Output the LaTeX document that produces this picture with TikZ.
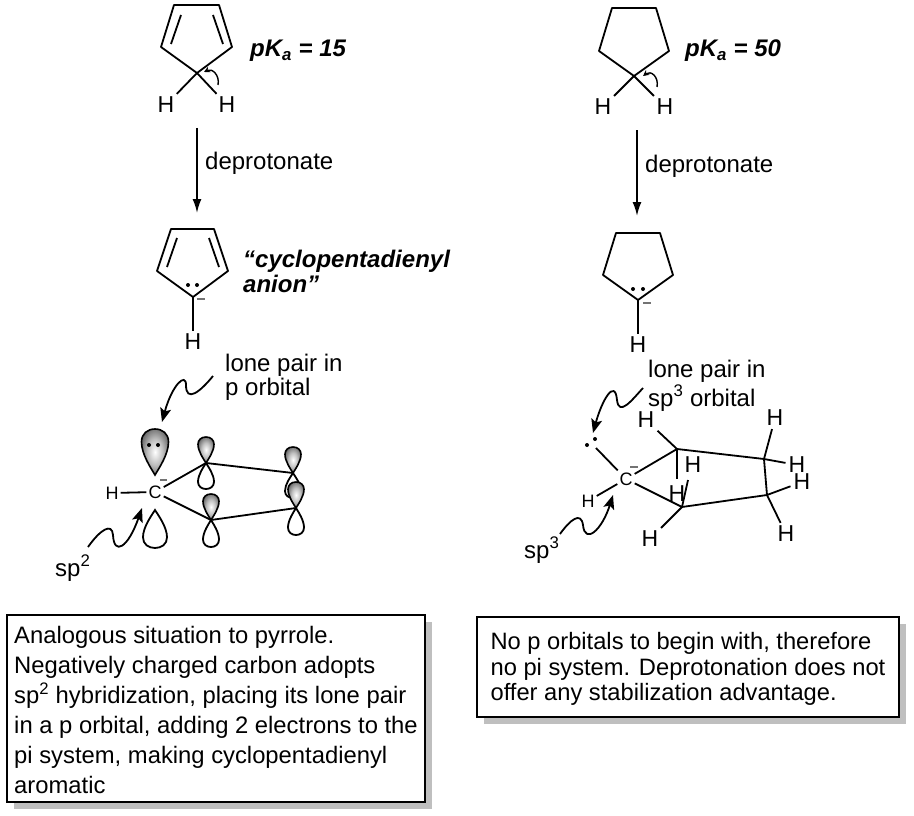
\documentclass[tikz,border=0pt]{standalone}
\usepackage{fontspec}
\setmainfont{Liberation Sans}
\usetikzlibrary {arrows.meta, positioning, shadows}
\pgfdeclareradialshading{lobeglow}{\pgfpoint{0bp}{0bp}}{%
    color(0bp)=(white); color(14bp)=(black!25); color(24bp)=(black!50); color(34bp)=(black!75); color(50bp)=(black!90)}
\tikzset{
    >={Latex[length=14pt, width=9pt]},
    bond/.style={line width=1.8pt},
    squiggle/.style={line width=1.8pt, -{Stealth[length=14pt, width=11pt, inset=3pt]}},
    hook/.style={line width=1.4pt, -{Stealth[length=6pt, width=6pt]}},
    minusbar/.style={line width=1.2pt, black!55},
    atomH/.style={font=\fontsize{23}{23}\selectfont, inner sep=3pt},
    atomsmall/.style={font=\fontsize{18}{18}\selectfont, inner sep=2pt},
    caption/.style={font=\fontsize{24}{24}\selectfont, anchor=base west, inner sep=0pt},
    boldcaption/.style={caption, font=\fontsize{24}{24}\selectfont\bfseries\itshape},
    notebox/.style={draw, line width=1.8pt, fill=white, outer sep=0pt, align=left,
        inner xsep=0pt, inner ysep=0pt,
        drop shadow={shadow xshift=7pt, shadow yshift=-7pt, fill=black!25, opacity=1}},
    lobe/.pic={
        \path[pic actions] (0,0) .. controls (-.3,.15) and (-1,.45) .. (-1,.72)
            .. controls (-1,.9) and (-.55,1) .. (0,1)
            .. controls (.55,1) and (1,.9) .. (1,.72)
            .. controls (1,.45) and (.3,.15) .. (0,0) -- cycle;
    },
    openlobe/.style={draw, line width=1.8pt},
    darklobe/.style={draw, line width=1.6pt, shading=lobeglow}
}
\begin{document}
\begin{tikzpicture}[x=1pt, y=-1pt]
    \useasboundingbox (0, 0) rectangle (914, 816);
    % cyclopentadiene
    \coordinate (dtl) at (174, 5);
    \coordinate (dtr) at (219, 5);
    \coordinate (dr) at (232, 47);
    \coordinate (db) at (197, 73);
    \coordinate (dl) at (161, 47);
    \draw[bond, line join=round] (dtl) -- (dtr) -- (dr) -- (db) -- (dl) -- cycle;
    \draw[bond] (181, 15) -- (171, 44);
    \draw[bond] (213, 15) -- (223, 44);
    \node[atomH] (dh1) at (166, 105) {H};
    \node[atomH] (dh2) at (227, 105) {H};
    \draw[bond] (db) -- (dh1);
    \draw[bond] (db) -- (dh2);
    \draw[hook] (218, 85) .. controls (220, 75) and (212, 68) .. (204, 72);
    \node[boldcaption] (pka1) at (250, 57) {pK\textsubscript{a} = 15};
    % cyclopentane
    \coordinate (atl) at (612, 8);
    \coordinate (atr) at (656, 8);
    \coordinate (ar) at (669, 51);
    \coordinate (ab) at (634, 76);
    \coordinate (al) at (599, 51);
    \draw[bond, line join=round] (atl) -- (atr) -- (ar) -- (ab) -- (al) -- cycle;
    \node[atomH] (ah1) at (603, 107) {H};
    \node[atomH] (ah2) at (665, 107) {H};
    \draw[bond] (ab) -- (ah1);
    \draw[bond] (ab) -- (ah2);
    \draw[hook] (657, 87) .. controls (659, 77) and (651, 70) .. (643, 76);
    \node[boldcaption] (pka2) at (685, 57) {pK\textsubscript{a} = 50};
    % deprotonation arrows
    \coordinate (da1) at (197, 128);
    \coordinate (da2) at (197, 213);
    \coordinate (aa1) at (637, 130);
    \coordinate (aa2) at (637, 216);
    \draw[->, bond] (da1) -- (da2);
    \draw[->, bond] (aa1) -- (aa2);
    \node[caption] (dep1) at (205, 169) {deprotonate};
    \node[caption] (dep2) at (645, 172) {deprotonate};
    % cyclopentadienyl anion
    \coordinate (ctl) at (171, 229);
    \coordinate (ctr) at (214, 229);
    \coordinate (cr) at (228, 271);
    \coordinate (cb) at (193, 297);
    \coordinate (cl) at (157, 271);
    \draw[bond, line join=round] (ctl) -- (ctr) -- (cr) -- (cb) -- (cl) -- cycle;
    \draw[bond] (177, 238) -- (167, 267);
    \draw[bond] (209, 238) -- (219, 267);
    \fill (188, 285) circle (2) (197, 285) circle (2);
    \draw[minusbar] (197, 299) -- (205, 299);
    \node[atomH] (ch) at (193, 342) {H};
    \draw[bond] (cb) -- (ch);
    \node[boldcaption] (cname1) at (243, 267) {``cyclopentadienyl};
    \node[boldcaption] (cname2) at (243, 292) {anion''};
    % cyclopentyl anion
    \coordinate (btl) at (616, 233);
    \coordinate (btr) at (660, 233);
    \coordinate (br) at (673, 275);
    \coordinate (bb) at (638, 300);
    \coordinate (bl) at (603, 275);
    \draw[bond, line join=round] (btl) -- (btr) -- (br) -- (bb) -- (bl) -- cycle;
    \fill (633, 289) circle (2) (643, 289) circle (2);
    \draw[minusbar] (643, 303) -- (651, 303);
    \node[atomH] (bh) at (638, 345) {H};
    \draw[bond] (bb) -- (bh);
    % p orbitals, left
    \node[caption] (lp1) at (225, 371) {lone pair in};
    \node[caption] (lp2) at (225, 395) {p orbital};
    \coordinate (orb1) at (206, 463);
    \coordinate (orb2) at (211, 520);
    \coordinate (orb3) at (293, 473);
    \coordinate (orb4) at (296, 508);
    \pic[openlobe, xscale=8, yscale=26] at (orb1) {lobe};
    \pic[darklobe, xscale=8, yscale=-26] at (orb1) {lobe};
    \pic[openlobe, xscale=8, yscale=27] at (orb2) {lobe};
    \pic[darklobe, xscale=8, yscale=-26] at (orb2) {lobe};
    \pic[openlobe, xscale=8, yscale=25] at (orb3) {lobe};
    \pic[darklobe, xscale=8, yscale=-26] at (orb3) {lobe};
    \pic[openlobe, xscale=8, yscale=27] at (orb4) {lobe};
    \pic[darklobe, xscale=8, yscale=-26] at (orb4) {lobe};
    \pic[darklobe, xscale=13.5, yscale=-46] at (155, 475) {lobe};
    \pic[openlobe, xscale=12, yscale=38] at (155, 510) {lobe};
    \fill[black] (149, 445) circle (2) (158, 445) circle (2);
    \node[atomsmall] (cc) at (155, 492) {C};
    \node[atomsmall] (chl) at (112, 493) {H};
    \draw[minusbar] (160, 480) -- (167, 480);
    \draw[bond] (chl) -- (cc);
    \draw[bond] (cc) -- (orb1);
    \draw[bond] (cc) -- (orb2);
    \draw[bond] (orb1) -- (orb3);
    \draw[bond] (orb2) -- (orb4);
    \draw[squiggle] (213, 376) .. controls (200, 392) and (186, 403) .. (186, 385)
        .. controls (186, 372) and (172, 385) .. (162, 422);
    \draw[squiggle] (88, 547) .. controls (100, 530) and (112, 522) .. (113, 535)
        .. controls (114, 556) and (128, 548) .. (142, 508);
    \node[caption] (sp2) at (55, 576) {sp\textsuperscript{2}};
    % sp3 carbons, right
    \node[caption] (lq1) at (648, 377) {lone pair in};
    \node[caption] (lq2) at (648, 406) {sp\textsuperscript{3} orbital};
    \node[atomsmall] (rc) at (626, 479) {C};
    \coordinate (rp) at (677, 449);
    \coordinate (rq) at (682, 507);
    \coordinate (rr) at (764, 459);
    \coordinate (rs) at (767, 495);
    \coordinate (rlone) at (596, 448);
    \node[atomsmall] (rch) at (588, 501) {H};
    \draw[minusbar] (630, 467) -- (638, 467);
    \draw[bond] (rc) -- (rp);
    \draw[bond] (rc) -- (rq);
    \draw[bond, line join=round] (rp) -- (rr) -- (rs) -- (rq);
    \draw[bond] (rc) -- (rlone);
    \draw[bond] (rc) -- (rch);
    \fill (587, 445) circle (2) (595, 439) circle (2);
    \node[atomH] (h1) at (646, 420) {H};
    \node[atomH] (h2) at (693, 465) {H};
    \node[atomH] (h3) at (677, 494) {H};
    \node[atomH] (h4) at (650, 539) {H};
    \node[atomH] (h5) at (775, 418) {H};
    \node[atomH] (h6) at (797, 465) {H};
    \node[atomH] (h7) at (802, 482) {H};
    \node[atomH] (h8) at (786, 534) {H};
    \coordinate (e2) at (677, 479);
    \coordinate (e3) at (688, 480);
    \draw[bond] (rp) -- (h1);
    \draw[bond] (rp) -- (e2);
    \draw[bond] (rq) -- (e3);
    \draw[bond] (rq) -- (h4);
    \draw[bond] (rr) -- (h5);
    \draw[bond] (rr) -- (h6);
    \draw[bond] (rs) -- (h7);
    \draw[bond] (rs) -- (h8);
    \draw[squiggle] (643, 388) .. controls (632, 400) and (619, 417) .. (617, 400)
        .. controls (615, 378) and (602, 400) .. (593, 433);
    \draw[squiggle] (560, 534) .. controls (570, 520) and (581, 511) .. (583, 525)
        .. controls (585, 545) and (602, 530) .. (613, 495);
    \node[caption] (sp3) at (524, 558) {sp\textsuperscript{3}};
    % text boxes
    \node[notebox, font=\fontsize{23.8}{30}\selectfont, minimum width=418pt, minimum height=187pt]
        (noteleft) at (216, 708.5)
        {\rule{0pt}{21pt}Analogous situation to pyrrole.\\
         Negatively charged carbon adopts\\
         sp\textsuperscript{2} hybridization, placing its lone pair\\
         in a p orbital, adding 2 electrons to the\hspace{6pt}\\
         pi system, making cyclopentadienyl\\
         aromatic};
    \node[notebox, font=\fontsize{23.7}{25.5}\selectfont, minimum width=422pt, minimum height=100pt]
        (noteright) at (688, 667)
        {\rule{0pt}{21pt}No p orbitals to begin with, therefore\\
         no pi system. Deprotonation does not\\
         offer any stabilization advantage.};
\end{tikzpicture}
\end{document}
